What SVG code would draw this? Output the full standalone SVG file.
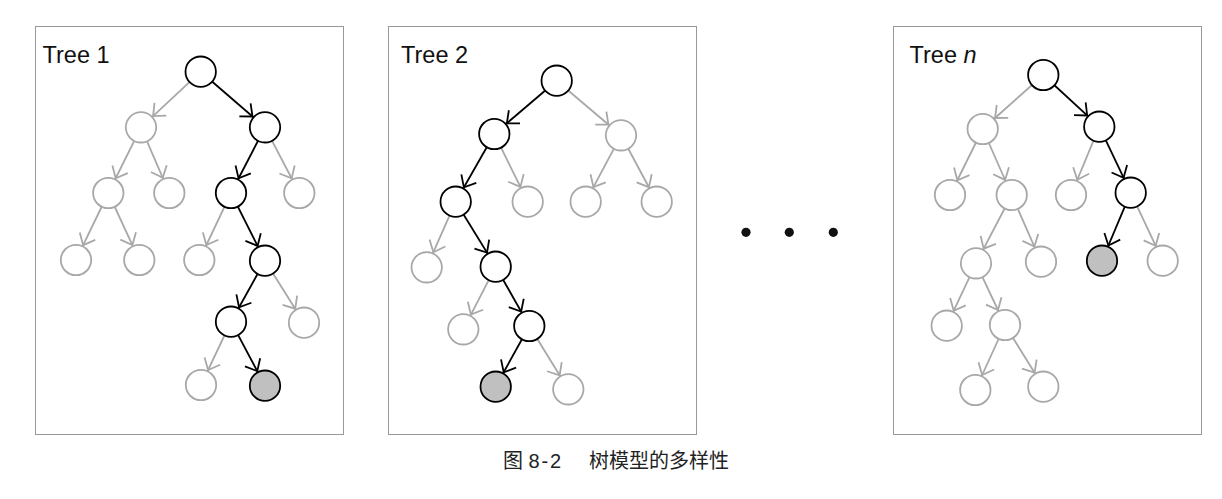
<svg xmlns="http://www.w3.org/2000/svg" width="1222" height="499" viewBox="0 0 1222 499">
<style>
.frame{fill:none;stroke:#333;stroke-width:1;stroke-dasharray:1 1}
.lbl{font-family:"Liberation Sans",Arial,sans-serif;font-size:23.5px;fill:#111}
.cap{font-family:"Noto Sans CJK SC","Noto Sans",sans-serif;font-size:20px;fill:#222}
.num{font-family:"Liberation Sans",Arial,sans-serif;font-size:20px;fill:#222}
.nb{fill:#fff;stroke:#000;stroke-width:1.8}
.ng{fill:#fff;stroke:#a8a8a8;stroke-width:1.8}
.nf{fill:#c0c0c0;stroke:#000;stroke-width:1.8}
.eb{stroke:#000;stroke-width:1.8;fill:none;marker-end:url(#ab)}
.eg{stroke:#a8a8a8;stroke-width:1.8;fill:none;marker-end:url(#ag)}
</style>
<defs>
<marker id="ab" markerUnits="userSpaceOnUse" orient="auto" refX="0" refY="0" markerWidth="40" markerHeight="30" overflow="visible">
<path d="M -26.5 -8.6 L -16.5 0 L -26.5 8.6" fill="none" stroke="#000" stroke-width="1.8"/>
</marker>
<marker id="ag" markerUnits="userSpaceOnUse" orient="auto" refX="0" refY="0" markerWidth="40" markerHeight="30" overflow="visible">
<path d="M -26.5 -8.6 L -16.5 0 L -26.5 8.6" fill="none" stroke="#a8a8a8" stroke-width="1.8"/>
</marker>
</defs>
<rect fill="#fff" x="0" y="0" width="1222" height="499"/>
<g id="frames">
<rect class="frame" x="35.5" y="26.5" width="308" height="408"/>
<rect class="frame" x="388.5" y="26.5" width="308" height="408"/>
<rect class="frame" x="893.5" y="26.5" width="308" height="408"/>
</g>
<g id="connectors">
<!-- Tree 1 -->
<line class="eg" x1="200.7" y1="71.7" x2="141" y2="127.3"/>
<line class="eb" x1="200.7" y1="71.7" x2="265" y2="127.3"/>
<line class="eg" x1="141" y1="127.3" x2="108.3" y2="193"/>
<line class="eg" x1="141" y1="127.3" x2="169.3" y2="193"/>
<line class="eb" x1="265" y1="127.3" x2="231" y2="193"/>
<line class="eg" x1="265" y1="127.3" x2="299.3" y2="193"/>
<line class="eg" x1="108.3" y1="193" x2="76" y2="260"/>
<line class="eg" x1="108.3" y1="193" x2="139.3" y2="260"/>
<line class="eg" x1="231" y1="193" x2="199.3" y2="260"/>
<line class="eb" x1="231" y1="193" x2="265" y2="260.7"/>
<line class="eb" x1="265" y1="260.7" x2="231" y2="321.7"/>
<line class="eg" x1="265" y1="260.7" x2="304" y2="322.7"/>
<line class="eg" x1="231" y1="321.7" x2="201" y2="385"/>
<line class="eb" x1="231" y1="321.7" x2="265" y2="385.7"/>
<!-- Tree 2 -->
<line class="eb" x1="556.7" y1="80.7" x2="494.3" y2="134"/>
<line class="eg" x1="556.7" y1="80.7" x2="621" y2="135.3"/>
<line class="eb" x1="494.3" y1="134" x2="455.7" y2="201.7"/>
<line class="eg" x1="494.3" y1="134" x2="527.7" y2="201.7"/>
<line class="eg" x1="621" y1="135.3" x2="585.7" y2="201.7"/>
<line class="eg" x1="621" y1="135.3" x2="656.7" y2="201.7"/>
<line class="eg" x1="455.7" y1="201.7" x2="426.7" y2="267.3"/>
<line class="eb" x1="455.7" y1="201.7" x2="495.7" y2="266.7"/>
<line class="eg" x1="495.7" y1="266.7" x2="463.3" y2="329.3"/>
<line class="eb" x1="495.7" y1="266.7" x2="529.3" y2="326"/>
<line class="eb" x1="529.3" y1="326" x2="495.7" y2="386.7"/>
<line class="eg" x1="529.3" y1="326" x2="568.3" y2="389.3"/>
<!-- Tree n -->
<line class="eg" x1="1043.3" y1="75" x2="982.7" y2="129"/>
<line class="eb" x1="1043.3" y1="75" x2="1099.3" y2="126.7"/>
<line class="eg" x1="982.7" y1="129" x2="950" y2="195"/>
<line class="eg" x1="982.7" y1="129" x2="1011.7" y2="195"/>
<line class="eg" x1="1099.3" y1="126.7" x2="1071" y2="195"/>
<line class="eb" x1="1099.3" y1="126.7" x2="1130.7" y2="192.7"/>
<line class="eg" x1="1011.7" y1="195" x2="976" y2="263.3"/>
<line class="eg" x1="1011.7" y1="195" x2="1041" y2="261.7"/>
<line class="eb" x1="1130.7" y1="192.7" x2="1102" y2="260.7"/>
<line class="eg" x1="1130.7" y1="192.7" x2="1162.7" y2="260.7"/>
<line class="eg" x1="976" y1="263.3" x2="946.7" y2="325.7"/>
<line class="eg" x1="976" y1="263.3" x2="1005" y2="325"/>
<line class="eg" x1="1005" y1="325" x2="975.3" y2="390"/>
<line class="eg" x1="1005" y1="325" x2="1043.3" y2="386.7"/>
</g>
<g id="tree1">
<text class="lbl" x="42.5" y="63">Tree 1</text>
<g id="t1-n1"><circle class="nb" cx="200.7" cy="71.7" r="15.2"/></g>
<g id="t1-n2"><circle class="ng" cx="141" cy="127.3" r="15.2"/></g>
<g id="t1-n3"><circle class="nb" cx="265" cy="127.3" r="15.2"/></g>
<g id="t1-n4"><circle class="ng" cx="108.3" cy="193" r="15.2"/></g>
<g id="t1-n5"><circle class="ng" cx="169.3" cy="193" r="15.2"/></g>
<g id="t1-n6"><circle class="nb" cx="231" cy="193" r="15.2"/></g>
<g id="t1-n7"><circle class="ng" cx="299.3" cy="193" r="15.2"/></g>
<g id="t1-n8"><circle class="ng" cx="76" cy="260" r="15.2"/></g>
<g id="t1-n9"><circle class="ng" cx="139.3" cy="260" r="15.2"/></g>
<g id="t1-n10"><circle class="ng" cx="199.3" cy="260" r="15.2"/></g>
<g id="t1-n11"><circle class="nb" cx="265" cy="260.7" r="15.2"/></g>
<g id="t1-n12"><circle class="nb" cx="231" cy="321.7" r="15.2"/></g>
<g id="t1-n13"><circle class="ng" cx="304" cy="322.7" r="15.2"/></g>
<g id="t1-n14"><circle class="ng" cx="201" cy="385" r="15.2"/></g>
<g id="t1-n15"><circle class="nf" cx="265" cy="385.7" r="15.2"/></g>
</g>
<g id="tree2">
<text class="lbl" x="401" y="63">Tree 2</text>
<g id="t2-n1"><circle class="nb" cx="556.7" cy="80.7" r="15.2"/></g>
<g id="t2-n2"><circle class="nb" cx="494.3" cy="134" r="15.2"/></g>
<g id="t2-n3"><circle class="ng" cx="621" cy="135.3" r="15.2"/></g>
<g id="t2-n4"><circle class="nb" cx="455.7" cy="201.7" r="15.2"/></g>
<g id="t2-n5"><circle class="ng" cx="527.7" cy="201.7" r="15.2"/></g>
<g id="t2-n6"><circle class="ng" cx="585.7" cy="201.7" r="15.2"/></g>
<g id="t2-n7"><circle class="ng" cx="656.7" cy="201.7" r="15.2"/></g>
<g id="t2-n8"><circle class="ng" cx="426.7" cy="267.3" r="15.2"/></g>
<g id="t2-n9"><circle class="nb" cx="495.7" cy="266.7" r="15.2"/></g>
<g id="t2-n10"><circle class="ng" cx="463.3" cy="329.3" r="15.2"/></g>
<g id="t2-n11"><circle class="nb" cx="529.3" cy="326" r="15.2"/></g>
<g id="t2-n12"><circle class="nf" cx="495.7" cy="386.7" r="15.2"/></g>
<g id="t2-n13"><circle class="ng" cx="568.3" cy="389.3" r="15.2"/></g>
</g>
<g id="ellipsis">
<circle cx="746" cy="232.3" r="4.6" fill="#111"/>
<circle cx="789.3" cy="232.3" r="4.6" fill="#111"/>
<circle cx="833.3" cy="232.3" r="4.6" fill="#111"/>
</g>
<g id="treen">
<text class="lbl" x="909.5" y="63">Tree <tspan font-style="italic">n</tspan></text>
<g id="tn-n1"><circle class="nb" cx="1043.3" cy="75" r="15.2"/></g>
<g id="tn-n2"><circle class="ng" cx="982.7" cy="129" r="15.2"/></g>
<g id="tn-n3"><circle class="nb" cx="1099.3" cy="126.7" r="15.2"/></g>
<g id="tn-n4"><circle class="ng" cx="950" cy="195" r="15.2"/></g>
<g id="tn-n5"><circle class="ng" cx="1011.7" cy="195" r="15.2"/></g>
<g id="tn-n6"><circle class="ng" cx="1071" cy="195" r="15.2"/></g>
<g id="tn-n7"><circle class="nb" cx="1130.7" cy="192.7" r="15.2"/></g>
<g id="tn-n8"><circle class="ng" cx="976" cy="263.3" r="15.2"/></g>
<g id="tn-n9"><circle class="ng" cx="1041" cy="261.7" r="15.2"/></g>
<g id="tn-n10"><circle class="nf" cx="1102" cy="260.7" r="15.2"/></g>
<g id="tn-n11"><circle class="ng" cx="1162.7" cy="260.7" r="15.2"/></g>
<g id="tn-n12"><circle class="ng" cx="946.7" cy="325.7" r="15.2"/></g>
<g id="tn-n13"><circle class="ng" cx="1005" cy="325" r="15.2"/></g>
<g id="tn-n14"><circle class="ng" cx="975.3" cy="390" r="15.2"/></g>
<g id="tn-n15"><circle class="ng" cx="1043.3" cy="386.7" r="15.2"/></g>
</g>
<g id="caption">
<text class="cap" y="468"><tspan x="503">图</tspan><tspan class="num" x="528.5">8</tspan><tspan class="num" x="541.5">-</tspan><tspan class="num" x="550">2</tspan><tspan x="589">树模型的多样性</tspan></text>
</g>
</svg>
